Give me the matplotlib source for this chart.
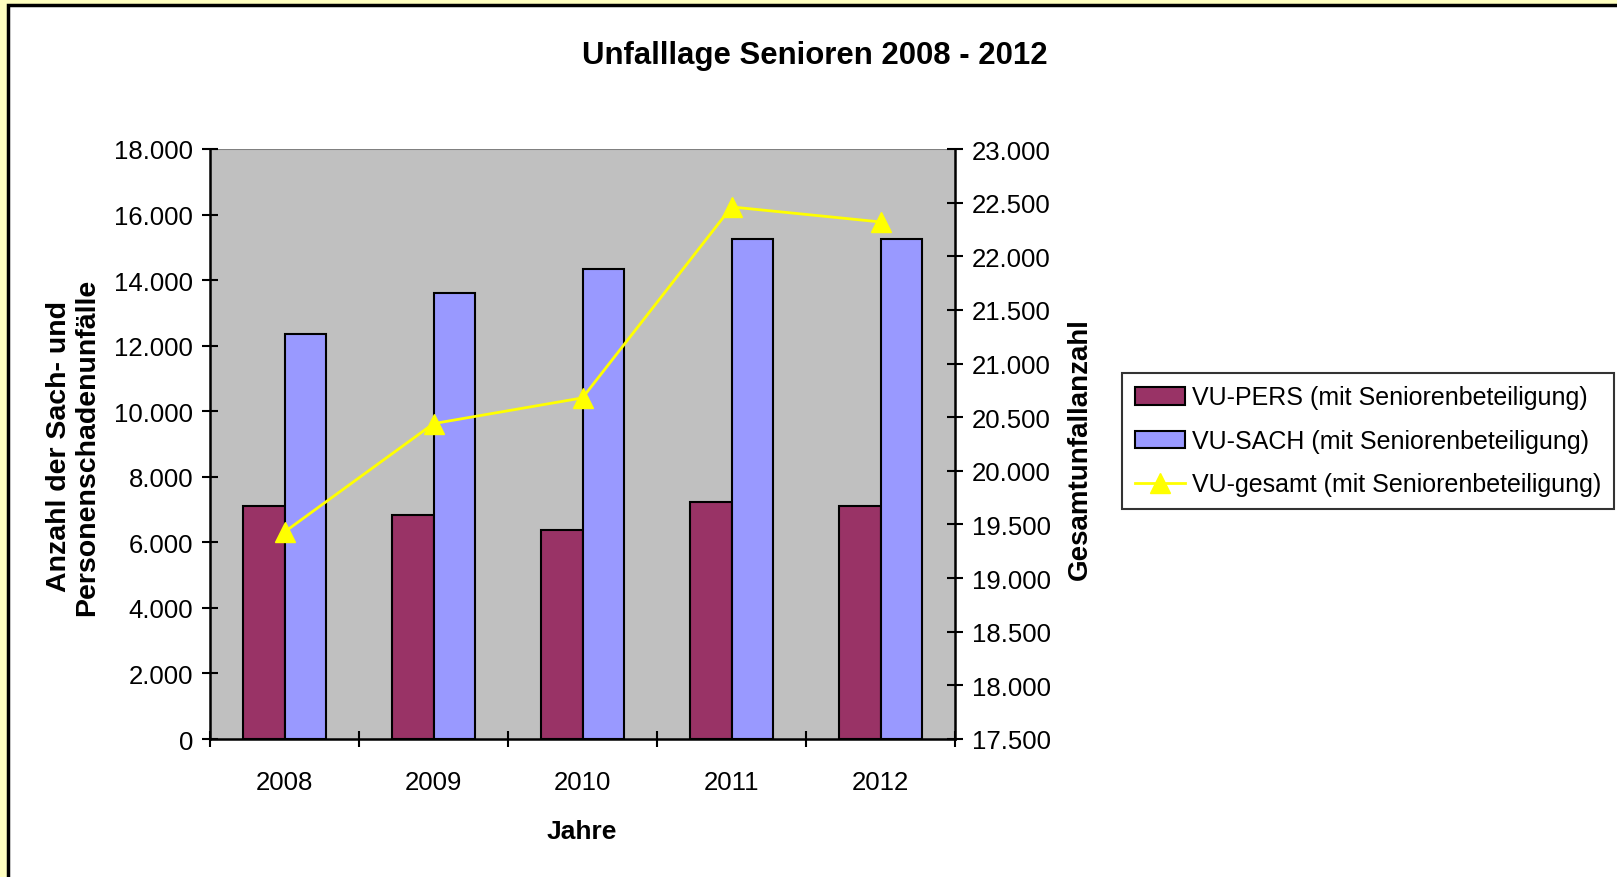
import matplotlib.pyplot as plt
import numpy as np
from matplotlib.patches import Rectangle

plt.rcParams['font.family'] = ['Liberation Sans', 'DejaVu Sans']

# Daten
jahre = ['2008', '2009', '2010', '2011', '2012']
vu_pers = [7100, 6830, 6380, 7240, 7110]
vu_sach = [12370, 13620, 14340, 15250, 15250]
vu_gesamt = [19430, 20440, 20680, 22460, 22320]

left_ticks = [0, 2000, 4000, 6000, 8000, 10000, 12000, 14000, 16000, 18000]
right_ticks = [17500, 18000, 18500, 19000, 19500, 20000, 20500, 21000, 21500, 22000, 22500, 23000]

def fmt(v):
    return '{:,}'.format(v).replace(',', '.')

W, H = 1617, 878
fig = plt.figure(figsize=(W / 100, H / 100), dpi=100, facecolor='#FFFFC0')

# weisser Rahmen mit schwarzem Rand (links/oben sichtbar)
frame = Rectangle((8 / W, -0.05), 1.1, (H - 6) / H + 0.05, transform=fig.transFigure,
                  facecolor='white', edgecolor='black', linewidth=2.5, zorder=-10)
fig.patches.append(frame)

ax = fig.add_axes([210 / W, 1 - 740 / H, 745 / W, 590 / H])
ax.set_facecolor('#C0C0C0')
x = np.arange(len(jahre))
bw = 0.28
ax.bar(x - bw / 2, vu_pers, bw, color='#993366', edgecolor='black', linewidth=1.5,
       label='VU-PERS (mit Seniorenbeteiligung)', zorder=2)
ax.bar(x + bw / 2, vu_sach, bw, color='#9999FF', edgecolor='black', linewidth=1.5,
       label='VU-SACH (mit Seniorenbeteiligung)', zorder=2)
ax.set_xlim(-0.5, len(jahre) - 0.5)
ax.set_ylim(0, 18000)
ax.set_yticks(left_ticks)
ax.set_yticklabels([fmt(v) for v in left_ticks])
ax.set_xticks(np.arange(len(jahre) + 1) - 0.5)
ax.set_xticklabels([])
ax.set_xticks(x, minor=True)
ax.set_xticklabels(jahre, minor=True)
ax.tick_params(axis='x', which='major', direction='inout', length=12, width=1.5)
ax.tick_params(axis='x', which='minor', length=0, pad=22, labelsize=18.5)
ax.tick_params(axis='y', direction='inout', length=12, width=1.5, labelsize=18.5, pad=6)
for s in ['top', 'right']:
    ax.spines[s].set_visible(False)
ax.spines['left'].set_linewidth(1.8)
ax.spines['bottom'].set_linewidth(1.8)
ax.axhline(18000, color='#808080', linewidth=1.5, zorder=1)

ax2 = ax.twinx()
ax2.plot(x, vu_gesamt, color='#FFFF00', linewidth=2, marker='^', markersize=14,
         label='VU-gesamt (mit Seniorenbeteiligung)', zorder=3)
ax2.set_ylim(17500, 23000)
ax2.set_yticks(right_ticks)
ax2.set_yticklabels([fmt(v) for v in right_ticks])
ax2.tick_params(axis='y', direction='inout', length=12, width=1.5, labelsize=18.5, pad=6)
for s in ['top', 'left', 'bottom']:
    ax2.spines[s].set_visible(False)
ax2.spines['right'].set_linewidth(1.8)

fig.text(815 / W, 1 - 56 / H, 'Unfalllage Senioren 2008 - 2012', ha='center', va='center',
         fontsize=22.4, fontweight='bold')
fig.text(582 / W, 1 - 832 / H, 'Jahre', ha='center', va='center', fontsize=19, fontweight='bold')
fig.text(73 / W, 1 - 447 / H, 'Anzahl der Sach- und\nPersonenschadenunfälle', ha='center',
         va='center', rotation=90, fontsize=20.5, fontweight='bold', linespacing=1.15)
fig.text(1080 / W, 1 - 449 / H, 'Gesamtunfallanzahl', ha='center', va='center', rotation=90,
         fontsize=20, fontweight='bold')

h1, l1 = ax.get_legend_handles_labels()
h2, l2 = ax2.get_legend_handles_labels()
leg = fig.legend(h1 + h2, l1 + l2, loc='upper left', bbox_to_anchor=(1122 / W, 1 - 374 / H),
                 fontsize=18, frameon=True, fancybox=False, edgecolor='black',
                 handlelength=2.0, handletextpad=0.3, borderpad=0.5, labelspacing=0.78,
                 borderaxespad=0)
leg.get_frame().set_linewidth(1.5)

fig.savefig('out.png', dpi=100, facecolor=fig.get_facecolor())
